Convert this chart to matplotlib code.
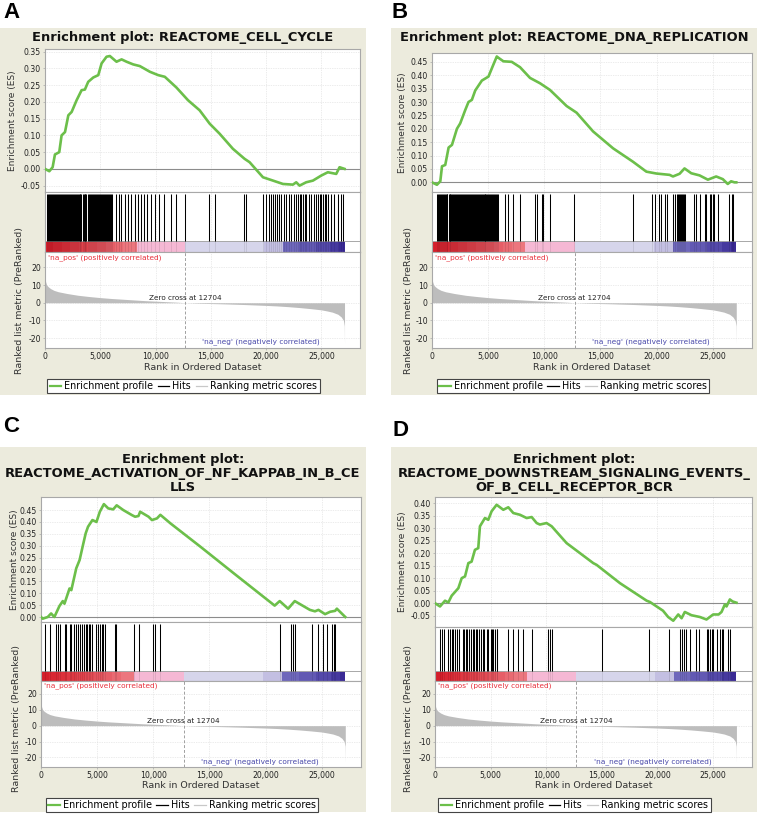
import matplotlib
matplotlib.use('Agg')
import matplotlib.pyplot as plt
from matplotlib.lines import Line2D
from matplotlib.patches import Rectangle
import numpy as np

W, H = 757, 814
plt.rcParams['font.family'] = ['DejaVu Sans']
plt.rcParams['axes.unicode_minus'] = False

# ---------------- data ----------------
n_genes = 27100
zero_cross = 12704
x_ticks = [0, 5000, 10000, 15000, 20000, 25000]
x_tick_labels = ['0', '5,000', '10,000', '15,000', '20,000', '25,000']
rank_ticks = [-20, -10, 0, 10, 20]

# ranked list metric (same dataset for all panels)
metric_rank = [0, 50, 150, 300, 500, 800, 1200, 2000, 3000, 4000, 5000, 6000, 7000, 8000,
               9000, 10000, 11000, 12000, 12704, 14000, 16000, 18000, 20000, 21000, 22000,
               23000, 24000, 25000, 25500, 26000, 26500, 26800, 27000, 27080, 27100]
metric_value = [15, 12, 10, 9, 8, 7, 6.2, 5.2, 4.2, 3.5, 2.9, 2.4, 2.0, 1.6,
                1.2, 0.9, 0.6, 0.3, 0, -0.3, -0.6, -1.0, -1.5, -1.8, -2.2,
                -2.7, -3.3, -4.0, -4.6, -5.3, -6.5, -8, -10, -13, -23]

# colour bar of the ranked list
cb_edges = [0, 700, 1500, 2300, 3100, 3900, 4700, 5500, 6300, 7100, 8280, 12704,
            19800, 21500, 23000, 24500, 25800, 26600, 27100]
cb_colors = ['#d41e2b', '#d92733', '#dc303b', '#de3843', '#e0414b', '#e24a54', '#e4535d',
             '#e65e67', '#e96a72', '#ec767e', '#f5b8d4', '#d6d5eb', '#c3bfe2', '#6e67bb',
             '#6259b3', '#5449aa', '#46399f', '#3a2a95']

# Panel A: REACTOME_CELL_CYCLE
es_rank_A = [0, 390, 690, 900, 1290, 1500, 1810, 2110, 2410, 2860, 3310, 3610, 3910, 4370,
             4820, 5120, 5570, 5870, 6470, 6930, 7380, 7980, 8580, 9490, 10240, 10840, 11890,
             12940, 13990, 14900, 15800, 17000, 18060, 18510, 19720, 20630, 21530, 22430,
             22730, 23030, 23630, 24240, 24990, 25590, 26350, 26650, 27100]
es_A = [0.0, -0.007, 0.005, 0.043, 0.05, 0.1, 0.11, 0.16, 0.17, 0.205, 0.235, 0.237, 0.26, 0.273,
        0.28, 0.315, 0.335, 0.337, 0.32, 0.327, 0.32, 0.312, 0.307, 0.29, 0.28, 0.275, 0.243,
        0.205, 0.175, 0.135, 0.105, 0.06, 0.03, 0.02, -0.025, -0.035, -0.045, -0.047,
        -0.04, -0.05, -0.04, -0.035, -0.02, -0.01, -0.015, 0.005, 0.0]
hits_A = [150, 230, 330, 420, 520, 600, 700, 790, 880, 960, 1050, 1150, 1230, 1320, 1420, 1500,
          1600, 1690, 1780, 1860, 1950, 2050, 2150, 2240, 2320, 2410, 2500, 2590, 2680, 2770,
          2860, 2950, 3040, 3130, 3210, 3300, 3400, 3490, 3580, 3660, 3750, 3850, 3940, 4030,
          4120, 4210, 4300, 4400, 4480, 4570, 4660, 4750, 4850, 4940, 5030, 5120, 5210, 5300,
          5400, 5490, 5580, 5680, 5770, 5860, 5950, 6020, 6410, 6700, 6920, 7200, 7530, 7800,
          8130, 8400, 8670, 8950, 9250, 9600, 9940, 10300, 10750, 11380, 11890, 12700, 14840,
          15360, 18000, 18220, 19720, 19960, 20230, 20420, 20620, 20780, 20990, 21170, 21380,
          21590, 21830, 22040, 22280, 22490, 22670, 22850, 23040, 23190, 23340, 23490, 23640,
          23850, 24090, 24300, 24480, 24690, 24840, 24990, 25140, 25290, 25450, 25600, 25900,
          26110, 26500, 26800, 26950]

# Panel B: REACTOME_DNA_REPLICATION
es_rank_B = [0, 440, 740, 890, 1180, 1480, 1780, 2220, 2510, 2960, 3250, 3550, 3850, 4440,
             5030, 5470, 5770, 5920, 6360, 7100, 7840, 8730, 9620, 10510, 11990, 12880, 14350,
             16130, 17900, 19090, 19980, 21160, 21460, 22050, 22490, 23090, 23830, 24570,
             25310, 25900, 26340, 26640, 26940, 27100]
es_B = [0.0, -0.009, 0.004, 0.06, 0.065, 0.13, 0.14, 0.2, 0.22, 0.27, 0.3, 0.308, 0.343, 0.38,
        0.395, 0.44, 0.47, 0.465, 0.452, 0.45, 0.43, 0.39, 0.37, 0.345, 0.285, 0.26, 0.19,
        0.127, 0.077, 0.04, 0.033, 0.028, 0.022, 0.032, 0.052, 0.034, 0.026, 0.01,
        0.022, 0.012, -0.006, 0.004, 0.0, 0.0]
hits_B = [440, 520, 600, 690, 780, 860, 950, 1040, 1120, 1210, 1300, 1380, 1470, 1560, 1640,
          1730, 1820, 1900, 1990, 2080, 2160, 2250, 2340, 2420, 2510, 2600, 2680, 2770, 2860,
          2940, 3030, 3120, 3200, 3290, 3380, 3460, 3550, 3640, 3720, 3810, 3900, 3980, 4070,
          4160, 4240, 4330, 4420, 4500, 4590, 4680, 4760, 4850, 4940, 5020, 5110, 5200, 5290,
          5370, 5460, 5550, 5630, 5720, 5810, 5920, 6510, 6750, 7250, 7840, 9170, 9380, 9770,
          9910, 10510, 12640, 17900, 19620, 19830, 20210, 20420, 20720, 20920, 21460, 21610,
          21840, 21930, 22010, 22090, 22170, 22250, 22330, 22410, 22490, 23320, 23530, 23830,
          24270, 24420, 24720, 24860, 25010, 25160, 25450, 26490, 26730, 26850]

# Panel C: REACTOME_ACTIVATION_OF_NF_KAPPAB_IN_B_CELLS
es_rank_C = [0, 150, 600, 900, 1190, 1640, 1940, 2090, 2540, 2700, 3140, 3440, 3740, 3980,
             4190, 4580, 4940, 5240, 5600, 5990, 6430, 6740, 7330, 8090, 8380, 8680, 8830,
             9580, 9880, 10330, 10630, 11530, 14220, 17220, 20810, 21260, 22010, 22600,
             23950, 24400, 24710, 25300, 25750, 26200, 26350, 27100]
es_C = [0.0, -0.007, 0.0, 0.015, 0.0, 0.046, 0.067, 0.056, 0.12, 0.113, 0.205, 0.24, 0.303,
        0.352, 0.38, 0.408, 0.4, 0.443, 0.475, 0.457, 0.453, 0.47, 0.45, 0.429, 0.422, 0.425,
        0.443, 0.422, 0.408, 0.415, 0.43, 0.394, 0.295, 0.182, 0.048, 0.067, 0.035, 0.067,
        0.03, 0.024, 0.03, 0.012, 0.022, 0.026, 0.035, 0.0]
hits_C = [390, 810, 1350, 1500, 1710, 2100, 2250, 2550, 2700, 2900, 3080, 3290, 3500, 3680,
          3800, 3980, 4100, 4280, 4400, 4580, 4940, 5090, 5240, 5390, 5540, 5690, 6590, 6680,
          8240, 8770, 9970, 10180, 10570, 21260, 22310, 22460, 22610, 24110, 24710, 25160,
          25460, 25910, 26060, 26200]

# Panel D: REACTOME_DOWNSTREAM_SIGNALING_EVENTS_OF_B_CELL_RECEPTOR_BCR
es_rank_D = [0, 450, 900, 1200, 1500, 2100, 2400, 2700, 3000, 3290, 3590, 3890, 4040, 4490,
             4790, 5090, 5540, 6140, 6590, 7040, 7640, 8240, 8690, 9140, 9430, 10030, 10490,
             11830, 14230, 14530, 16630, 19030, 19320, 20500, 20960, 21420, 21870, 22170,
             22460, 23060, 23810, 24410, 25010, 25500, 25760, 26060, 26210, 26510, 26750, 27100]
es_D = [0.0, -0.013, 0.01, 0.003, 0.03, 0.06, 0.1, 0.107, 0.16, 0.166, 0.213, 0.22, 0.307,
        0.34, 0.333, 0.367, 0.393, 0.373, 0.383, 0.36, 0.353, 0.34, 0.344, 0.32, 0.314, 0.32,
        0.307, 0.24, 0.16, 0.153, 0.08, 0.01, 0.005, -0.03, -0.055, -0.07, -0.045, -0.06,
        -0.035, -0.048, -0.055, -0.065, -0.045, -0.045, -0.035, -0.005, -0.013, 0.015, 0.007,
        0.002]
hits_D = [450, 600, 810, 1200, 1350, 1500, 1650, 1800, 2010, 2190, 2490, 2610, 2790, 2910,
          3080, 3200, 3380, 3500, 3680, 3800, 3980, 4100, 4280, 4400, 4640, 4790, 5000, 5120,
          5240, 5390, 5540, 5600, 6590, 7040, 7490, 7940, 8690, 10180, 10330, 10480, 14980,
          19260, 21050, 22070, 22220, 22370, 22550, 22910, 23450, 23750, 24410, 24560, 24710,
          24860, 25010, 25310, 25610, 25760, 25910, 26360, 26510]

# ---------------- layout / style ----------------
BEIGE = '#ecebdd'
GREEN = '#6cbf4a'
SPINE = '#a8a8a8'
GRIDC = '#d9d9d9'
XMAX = 28500

panels = [
    dict(label='A', lab=(12, 13), box=(0, 28, 366, 395),
         title=["Enrichment plot: REACTOME_CELL_CYCLE"], title_y=[38],
         es=(45, 49, 360, 192), hits=(45, 192, 360, 252), cb=11, rank=(45, 252, 360, 348),
         es_ylim=(-0.069, 0.358), es_lo=-0.05, es_hi=0.35, rank_ylim=(-25.5, 28.6),
         es_lab_x=13, rank_lab=(20, 301), xlab_y=367, leg_y=386,
         r=es_rank_A, v=es_A, h=hits_A),
    dict(label='B', lab=(400, 13), box=(391, 28, 757, 395),
         title=["Enrichment plot: REACTOME_DNA_REPLICATION"], title_y=[37],
         es=(432, 53, 752, 192), hits=(432, 192, 752, 252), cb=11, rank=(432, 252, 752, 348),
         es_ylim=(-0.036, 0.483), es_lo=0.0, es_hi=0.45, rank_ylim=(-25.5, 28.6),
         es_lab_x=403, rank_lab=(408, 301), xlab_y=367, leg_y=386,
         r=es_rank_B, v=es_B, h=hits_B),
    dict(label='C', lab=(11, 426), box=(0, 447, 366, 812),
         title=["Enrichment plot:", "REACTOME_ACTIVATION_OF_NF_KAPPAB_IN_B_CE", "LLS"],
         title_y=[459, 473.5, 487],
         es=(41, 497, 361, 622), hits=(41, 622, 361, 681), cb=10, rank=(41, 681, 361, 767),
         es_ylim=(-0.021, 0.505), es_lo=0.0, es_hi=0.45, rank_ylim=(-26.1, 28.2),
         es_lab_x=15, rank_lab=(17, 718), xlab_y=786, leg_y=805,
         r=es_rank_C, v=es_C, h=hits_C),
    dict(label='D', lab=(400, 431), box=(391, 447, 757, 812),
         title=["Enrichment plot:", "REACTOME_DOWNSTREAM_SIGNALING_EVENTS_",
                "OF_B_CELL_RECEPTOR_BCR"],
         title_y=[459, 473.5, 487],
         es=(435, 497, 752, 627), hits=(435, 627, 752, 681), cb=10, rank=(435, 681, 752, 767),
         es_ylim=(-0.095, 0.424), es_lo=-0.05, es_hi=0.40, rank_ylim=(-26.1, 28.2),
         es_lab_x=403, rank_lab=(409, 718), xlab_y=786, leg_y=805,
         r=es_rank_D, v=es_D, h=hits_D),
]

fig = plt.figure(figsize=(W / 100, H / 100), dpi=100)
fig.patch.set_facecolor('white')


def fx(x):
    return x / W


def fy(y):
    return 1 - y / H


def px_axes(r):
    x0, y0, x1, y1 = r
    a = fig.add_axes([fx(x0), fy(y1), (x1 - x0) / W, (y1 - y0) / H])
    a.set_zorder(2)
    return a


def style(ax):
    for s in ax.spines.values():
        s.set_color(SPINE)
        s.set_linewidth(0.8)
    ax.tick_params(length=1.5, width=0.5, color=SPINE, labelsize=5.6, pad=1.5,
                   labelcolor='#222222')
    ax.set_xlim(0, XMAX)
    ax.set_xticks(x_ticks)


for p in panels:
    x0, y0, x1, y1 = p['box']
    fig.patches.append(Rectangle((fx(x0), fy(y1)), (x1 - x0) / W, (y1 - y0) / H,
                                 transform=fig.transFigure, facecolor=BEIGE,
                                 edgecolor='none', zorder=-5))
    cx = (p['es'][0] + p['es'][2]) / 2
    bx = (x0 + x1) / 2
    fig.text(fx(p['lab'][0]), fy(p['lab'][1]), p['label'], fontsize=16, fontweight='bold',
             family='Liberation Sans', ha='center', va='center')
    for t, ty in zip(p['title'], p['title_y']):
        fig.text(fx(bx), fy(ty), t, fontsize=9.35, fontweight='bold', ha='center',
                 va='center', color='#111111')

    # ---- enrichment score axes ----
    ax = px_axes(p['es'])
    style(ax)
    ax.plot(p['r'], p['v'], color=GREEN, lw=1.9, zorder=3)
    ax.axhline(0, color='#8c8c8c', lw=0.8, zorder=2)
    ax.set_ylim(*p['es_ylim'])
    yt = np.round(np.arange(p['es_lo'], p['es_hi'] + 0.001, 0.05), 2)
    ax.set_yticks(yt)
    ax.set_yticklabels(['%.2f' % t for t in yt])
    ax.tick_params(axis='x', labelbottom=False, length=0)
    ax.grid(True, color=GRIDC, lw=0.5, ls=(0, (1, 1.5)))
    ax.set_axisbelow(True)
    fig.text(fx(p['es_lab_x']), fy((p['es'][1] + p['es'][3]) / 2), 'Enrichment score (ES)',
             rotation=90, fontsize=6.5, ha='center', va='center', color='#333333')

    # ---- hits + colour bar ----
    ah = px_axes(p['hits'])
    style(ah)
    ah.set_ylim(0, 1)
    ah.set_yticks([])
    ah.tick_params(axis='x', labelbottom=False, length=0)
    hh = p['hits'][3] - p['hits'][1]
    cbf = p['cb'] / hh
    ah.grid(True, axis='x', color=GRIDC, lw=0.5, ls=(0, (1, 1.5)))
    ah.set_axisbelow(True)
    for i, c in enumerate(cb_colors):
        ah.add_patch(Rectangle((cb_edges[i], 0), cb_edges[i + 1] - cb_edges[i], cbf,
                               facecolor=c, edgecolor='none', zorder=2))
    ah.axhline(cbf, color=SPINE, lw=0.7, zorder=3)
    ah.vlines(p['h'], cbf, 0.97, color='black', lw=0.75, zorder=4)
    ah.vlines(p['h'], 0, cbf, color='black', lw=0.5, alpha=0.12, zorder=4)

    # ---- ranked list metric ----
    ar = px_axes(p['rank'])
    style(ar)
    ar.fill_between(metric_rank, metric_value, 0, color='#bdbdbd', lw=0, zorder=2)
    ar.set_ylim(*p['rank_ylim'])
    ar.set_yticks(rank_ticks)
    ar.set_xticklabels(x_tick_labels)
    ar.grid(True, color=GRIDC, lw=0.5, ls=(0, (1, 1.5)))
    ar.set_axisbelow(True)
    ar.axvline(zero_cross, color='#a0a0a0', lw=0.7, ls=(0, (3, 2)), zorder=3)
    ar.text(zero_cross, 0.8, 'Zero cross at 12704', fontsize=5.2, ha='center', va='bottom',
            color='#222222', zorder=4)
    ar.text(300, 0.945, "'na_pos' (positively correlated)", transform=ar.get_xaxis_transform(),
            fontsize=5.3, color='#e8303c', ha='left', va='center')
    ar.text(14250, 0.065, "'na_neg' (negatively correlated)", transform=ar.get_xaxis_transform(),
            fontsize=5.3, color='#4848aa', ha='left', va='center')
    fig.text(fx(p['rank_lab'][0]), fy(p['rank_lab'][1]),
             'Ranked list metric (PreRanked)', rotation=90, fontsize=6.8, ha='center',
             va='center', color='#333333')
    fig.text(fx(cx), fy(p['xlab_y']), 'Rank in Ordered Dataset', fontsize=6.8,
             ha='center', va='center', color='#333333')

    handles = [Line2D([], [], color=GREEN, lw=1.6),
               Line2D([], [], color='black', lw=0.9),
               Line2D([], [], color='#c8c8c8', lw=0.9)]
    leg = fig.legend(handles, ['Enrichment profile', 'Hits', 'Ranking metric scores'],
                     loc='center', bbox_to_anchor=(fx(cx - 19), fy(p['leg_y'])), ncol=3,
                     fontsize=6.9, handlelength=1.2, handletextpad=0.3, columnspacing=0.5,
                     borderpad=0.25, fancybox=False, framealpha=1, edgecolor='#444444')
    leg.get_frame().set_linewidth(0.8)
    leg.set_zorder(3)

fig.savefig('out.png', dpi=100)
